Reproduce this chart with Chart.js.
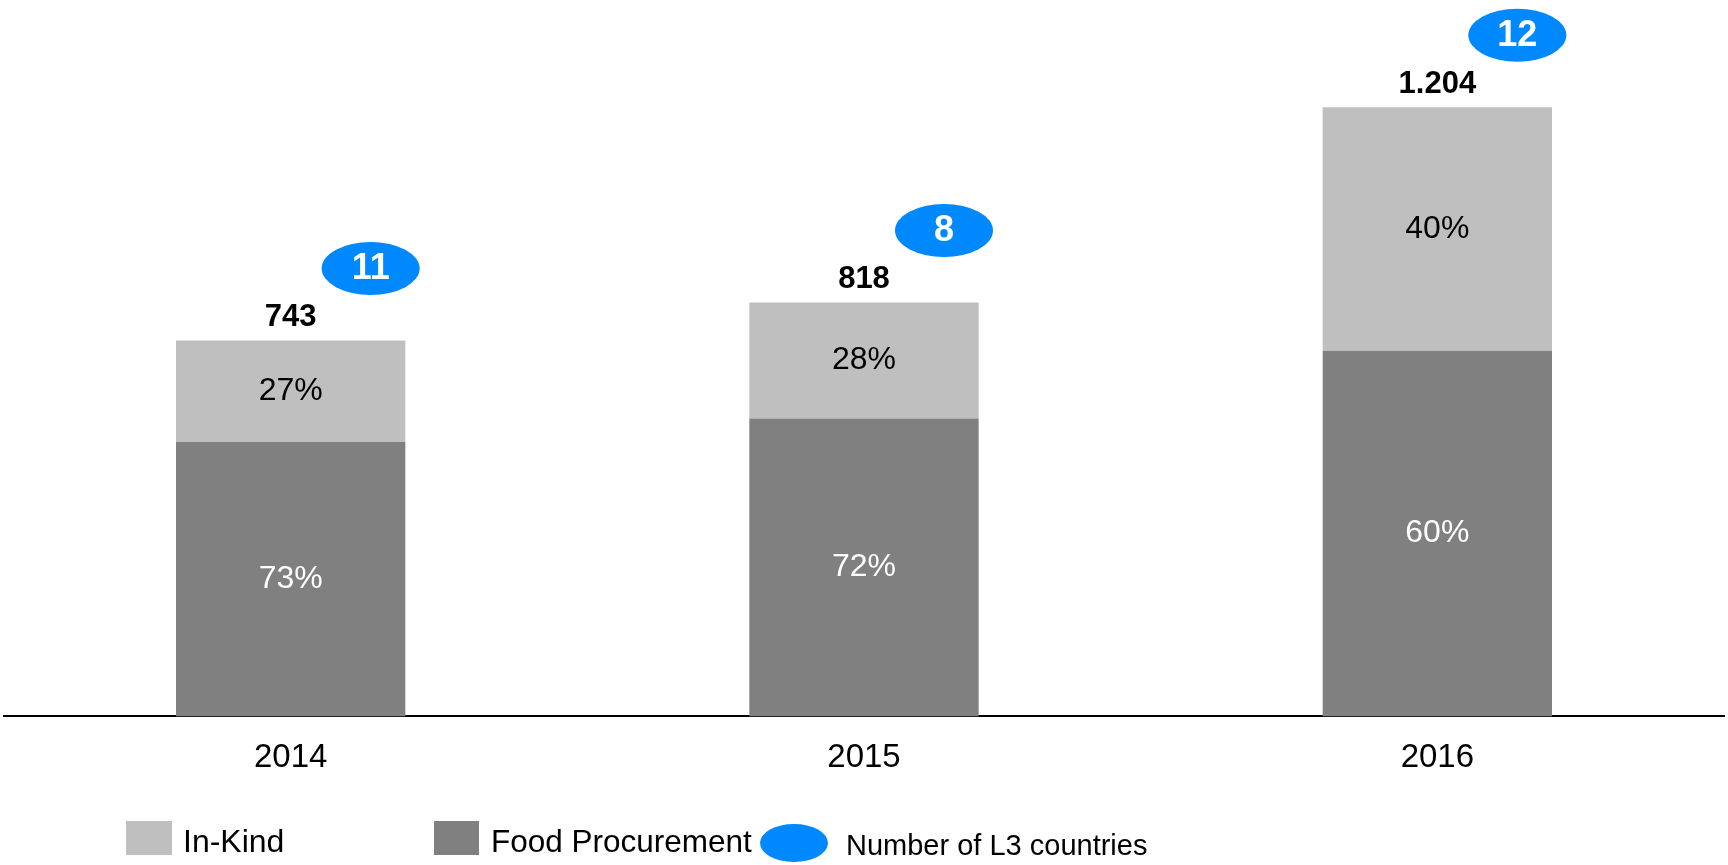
<!DOCTYPE html>
<html>
<head>
<meta charset="utf-8">
<title>In-Kind vs Food Procurement</title>
<script src="https://cdn.jsdelivr.net/npm/chart.js@4"></script>
<style>
  html, body { margin: 0; padding: 0; background: #ffffff; }
  #wrap { position: relative; width: 1728px; height: 865px; }
</style>
</head>
<body>
<div id="wrap"><canvas id="procurementChart"></canvas></div>
<script>
// categories and values
const years = ['2014', '2015', '2016'];
const totals = [743, 818, 1204];
const procurementPct = [73, 72, 60];
const inKindPct = [27, 28, 40];
const l3Countries = [11, 8, 12];
const totalLabels = ['743', '818', '1.204'];

const FONT = '"Liberation Sans", Arial, sans-serif';
const LIGHT = '#bfbfbf';
const DARK = '#808080';
const BLUE = '#0089ff';

// stacked segments: share of the yearly total
const procurementValues = totals.map((t, i) => t * procurementPct[i] / 100);
const inKindValues = totals.map((t, i) => t * inKindPct[i] / 100);

// labels inside the bars, totals above, L3 bubbles and the legend row
const annotations = {
    id: 'annotations',
    afterDatasetsDraw(chart) {
        const ctx = chart.ctx;
        const lowBars = chart.getDatasetMeta(0).data;
        const topBars = chart.getDatasetMeta(1).data;
        ctx.save();
        ctx.textAlign = 'center';
        ctx.textBaseline = 'middle';

        lowBars.forEach((bar, i) => {
            ctx.font = '32px ' + FONT;
            ctx.fillStyle = '#ffffff';
            ctx.fillText(procurementPct[i] + '%', bar.x, (bar.y + bar.base) / 2);
        });

        topBars.forEach((bar, i) => {
            ctx.font = '32px ' + FONT;
            ctx.fillStyle = '#000000';
            ctx.fillText(inKindPct[i] + '%', bar.x, (bar.y + bar.base) / 2);

            ctx.font = 'bold 31px ' + FONT;
            ctx.fillText(totalLabels[i], bar.x, bar.y - 23);

            // bubble with number of L3 countries
            const bx = bar.x + 80;
            const by = bar.y - 72;
            ctx.fillStyle = BLUE;
            ctx.beginPath();
            ctx.ellipse(bx, by, 49, 26.5, 0, 0, Math.PI * 2);
            ctx.fill();
            ctx.font = 'bold 36px ' + FONT;
            ctx.fillStyle = '#ffffff';
            ctx.fillText(String(l3Countries[i]), bx, by + 1);
        });

        // legend
        ctx.textAlign = 'left';
        ctx.textBaseline = 'alphabetic';
        ctx.fillStyle = LIGHT;
        ctx.fillRect(126, 821, 46, 34);
        ctx.fillStyle = DARK;
        ctx.fillRect(434, 821, 45, 34);
        ctx.fillStyle = BLUE;
        ctx.beginPath();
        ctx.ellipse(794, 843, 34, 19, 0, 0, Math.PI * 2);
        ctx.fill();

        ctx.fillStyle = '#000000';
        ctx.font = '32px ' + FONT;
        ctx.fillText('In-Kind', 183, 852);
        ctx.font = '31.5px ' + FONT;
        ctx.fillText('Food Procurement', 491, 852);
        ctx.font = '29px ' + FONT;
        ctx.fillText('Number of L3 countries', 846, 855);
        ctx.restore();
    }
};

const ctx = document.getElementById('procurementChart');
new Chart(ctx, {
    type: 'bar',
    data: {
        labels: years,
        datasets: [
            {
                label: 'Food Procurement',
                data: procurementValues,
                backgroundColor: DARK,
                barPercentage: 0.4,
                categoryPercentage: 1
            },
            {
                label: 'In-Kind',
                data: inKindValues,
                backgroundColor: LIGHT,
                barPercentage: 0.4,
                categoryPercentage: 1
            }
        ]
    },
    options: {
        responsive: true,
        maintainAspectRatio: false,
        animation: false,
        layout: {
            padding: { left: 4, right: 4, top: 8, bottom: 65 }
        },
        plugins: {
            legend: { display: false },
            tooltip: { enabled: false }
        },
        scales: {
            x: {
                stacked: true,
                grid: { display: false, drawTicks: false },
                border: { display: true, color: '#000000', width: 2 },
                ticks: {
                    color: '#000000',
                    padding: 22,
                    font: { family: FONT, size: 33 }
                }
            },
            y: {
                stacked: true,
                display: false,
                min: 0,
                max: 1400
            }
        }
    },
    plugins: [annotations]
});
</script>
</body>
</html>
